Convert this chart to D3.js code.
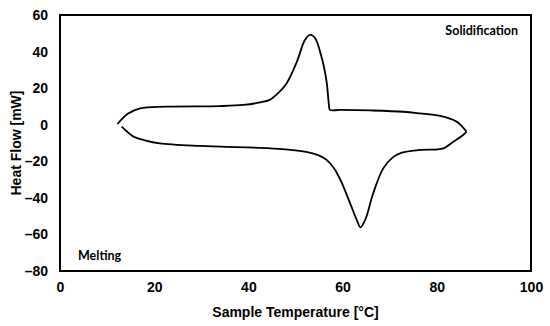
<!DOCTYPE html>
<html>
<head>
<meta charset="utf-8">
<script src="https://cdn.jsdelivr.net/npm/d3@7"></script>
<style>
  body { margin: 0; background: #fff; }
  svg { display: block; }
</style>
</head>
<body>
<script>
const width = 550
const height = 326

// x ticks and y ticks
const xTicks = [0, 20, 40, 60, 80, 100]
const yTicks = [-80, -60, -40, -20, 0, 20, 40, 60]

// cooling run (solidification), going from hot to cold: [temperature, heat flow]
const coolingT = [86.3, 85.3, 84.2, 80.7, 76.4, 72.9, 66, 59.4, 57.3, 57.1, 56.6, 55.6, 54.1, 53.1, 52.0, 50.3, 48.1, 46.2, 44.5, 42.5, 38.9, 34, 22.6, 17, 14.4, 12.2]
const coolingH = [-3.8, -0.8, 1.7, 4.8, 6.2, 7.1, 7.8, 8.1, 8.1, 10.8, 23.5, 36.3, 47.6, 49.1, 46.3, 34.5, 22.6, 17, 13.6, 12.2, 10.8, 10.2, 9.9, 9.0, 6.0, 0.4]

// heating run (melting), going from cold to hot
const heatingT = [13.1, 15.6, 18, 21.2, 29.7, 34, 44.6, 49.5, 52.5, 54.8, 56.5, 58.1, 59.6, 61.6, 63.0, 63.8, 64.8, 66.5, 68.6, 70.6, 72.6, 76.4, 81.4, 83.5, 85.6, 86.3]
const heatingH = [-1.1, -6.5, -8.5, -10.2, -11.6, -12, -12.9, -13.9, -15, -16.6, -19, -23.5, -30.5, -43, -52, -56.1, -52, -37.5, -24, -18, -15.3, -13.8, -12.9, -9.3, -5.6, -3.8]

const margin = {left: 60, right: 19, top: 15, bottom: 55}

const svg = d3.select("body").append("svg")
    .attr("width", width)
    .attr("height", height);

const x = d3.scaleLinear()
    .domain([0, 100])
    .range([margin.left, width - margin.right]);

const y = d3.scaleLinear()
    .domain([-80, 60])
    .range([height - margin.bottom, margin.top]);

const dash = v => d3.format("d")(v).replace("\u2212", "\u2013");

// y axis labels
const yAxis = svg.append("g")
    .attr("transform", `translate(${margin.left},0)`)
    .call(d3.axisLeft(y).tickValues(yTicks).tickSize(0).tickPadding(12).tickFormat(dash));
yAxis.select(".domain").remove();
yAxis.selectAll("text")
    .attr("font-family", "Liberation Sans, Arial, sans-serif")
    .attr("font-weight", "bold")
    .attr("font-size", 14)
    .attr("fill", "#000");

// x axis labels
const xAxis = svg.append("g")
    .attr("transform", `translate(0,${height - margin.bottom})`)
    .call(d3.axisBottom(x).tickValues(xTicks).tickSize(0).tickPadding(11).tickFormat(dash));
xAxis.select(".domain").remove();
xAxis.selectAll("text")
    .attr("font-family", "Liberation Sans, Arial, sans-serif")
    .attr("font-weight", "bold")
    .attr("font-size", 14)
    .attr("fill", "#000");

// plot frame
svg.append("rect")
    .attr("x", x(0))
    .attr("y", y(60))
    .attr("width", x(100) - x(0))
    .attr("height", y(-80) - y(60))
    .attr("fill", "none")
    .attr("stroke", "#000")
    .attr("stroke-width", 2);

// axis titles
svg.append("text")
    .attr("x", (x(0) + x(100)) / 2)
    .attr("y", 317)
    .attr("text-anchor", "middle")
    .attr("font-family", "Liberation Sans, Arial, sans-serif")
    .attr("font-weight", "bold")
    .attr("font-size", 14)
    .text("Sample Temperature [°C]");

svg.append("text")
    .attr("transform", `translate(21,${(y(60) + y(-80)) / 2}) rotate(-90)`)
    .attr("text-anchor", "middle")
    .attr("font-family", "Liberation Sans, Arial, sans-serif")
    .attr("font-weight", "bold")
    .attr("font-size", 14)
    .text("Heat Flow [mW]");

// DSC curves
const line = d3.line()
    .x(d => x(d[0]))
    .y(d => y(d[1]))
    .curve(d3.curveCatmullRom.alpha(0.5));

const cooling = coolingT.map((t, i) => [t, coolingH[i]]);
const heating = heatingT.map((t, i) => [t, heatingH[i]]);

[cooling, heating].forEach(run => {
    svg.append("path")
        .datum(run)
        .attr("d", line)
        .attr("fill", "none")
        .attr("stroke", "#000")
        .attr("stroke-width", 1.8);
});

// annotations
svg.append("text")
    .attr("x", 518)
    .attr("y", 35)
    .attr("text-anchor", "end")
    .attr("font-family", "Lato, sans-serif")
    .attr("font-weight", "bold")
    .attr("font-size", 12.5)
    .text("Solidification");

svg.append("text")
    .attr("x", 78)
    .attr("y", 260)
    .attr("font-family", "Lato, sans-serif")
    .attr("font-weight", "bold")
    .attr("font-size", 12.5)
    .text("Melting");
</script>
</body>
</html>
